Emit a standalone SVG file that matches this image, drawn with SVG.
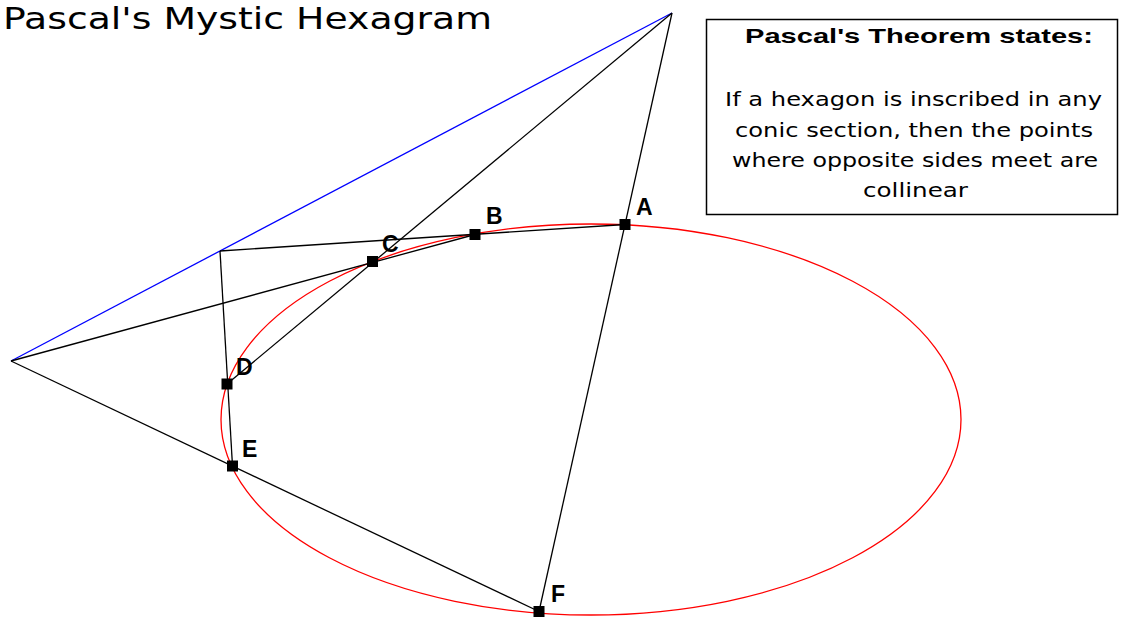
<svg xmlns="http://www.w3.org/2000/svg" width="1121" height="617" viewBox="0 0 1121 617">
<style>
.ln{stroke:#000;stroke-width:1.3;fill:none}
.blue{stroke:#0000ff;stroke-width:1.3;fill:none}
.conic{stroke:#ff0000;stroke-width:1.3;fill:none}
.pt{fill:#000}
.lbl{font-family:"Liberation Sans",Arial,sans-serif;font-weight:bold;font-size:23px;fill:#000}
.title{font-family:"DejaVu Sans","Liberation Sans",sans-serif;font-size:30px;fill:#000}
.head{font-family:"Liberation Sans",Arial,sans-serif;font-weight:bold;font-size:21px;fill:#000}
.body{font-family:"DejaVu Sans","Liberation Sans",sans-serif;font-size:20px;fill:#000}
</style>
<rect width="1121" height="617" fill="#fff"/>
<text class="title" x="3" y="29" textLength="489" lengthAdjust="spacingAndGlyphs">Pascal's Mystic Hexagram</text>
<ellipse id="conic" class="conic" cx="591" cy="419.5" rx="370" ry="195.5"/>
<g id="connectors">
<line class="blue" x1="11" y1="361" x2="672" y2="13"/>
<line class="ln" x1="220" y1="251" x2="625" y2="224.5"/>
<line class="ln" x1="220" y1="251" x2="232.5" y2="466"/>
<line class="ln" x1="11" y1="361" x2="475" y2="234.5"/>
<line class="ln" x1="11" y1="361" x2="539" y2="611.5"/>
<line class="ln" x1="227" y1="384" x2="672" y2="13"/>
<line class="ln" x1="539" y1="611.5" x2="672" y2="13"/>
</g>
<g id="A"><rect class="pt" x="619.5" y="219" width="11" height="11"/><text class="lbl" x="636" y="215">A</text></g>
<g id="B"><rect class="pt" x="469.5" y="229" width="11" height="11"/><text class="lbl" x="486" y="224">B</text></g>
<g id="C"><rect class="pt" x="367" y="256" width="11" height="11"/><text class="lbl" x="382" y="252">C</text></g>
<g id="D"><rect class="pt" x="221.5" y="378.5" width="11" height="11"/><text class="lbl" x="236" y="375">D</text></g>
<g id="E"><rect class="pt" x="227" y="460.5" width="11" height="11"/><text class="lbl" x="242" y="457">E</text></g>
<g id="F"><rect class="pt" x="533.5" y="606" width="11" height="11"/><text class="lbl" x="551" y="602">F</text></g>
<g id="theorem">
<rect x="706.5" y="19.5" width="411" height="195" fill="#fff" stroke="#000" stroke-width="1.5"/>
<text class="head" x="745" y="43" textLength="348" lengthAdjust="spacingAndGlyphs">Pascal's Theorem states:</text>
<text class="body" x="725" y="106" textLength="377" lengthAdjust="spacingAndGlyphs">If a hexagon is inscribed in any</text>
<text class="body" x="735" y="137" textLength="358" lengthAdjust="spacingAndGlyphs">conic section, then the points</text>
<text class="body" x="732" y="167" textLength="366" lengthAdjust="spacingAndGlyphs">where opposite sides meet are</text>
<text class="body" x="863" y="197" textLength="105" lengthAdjust="spacingAndGlyphs">collinear</text>
</g>
</svg>
